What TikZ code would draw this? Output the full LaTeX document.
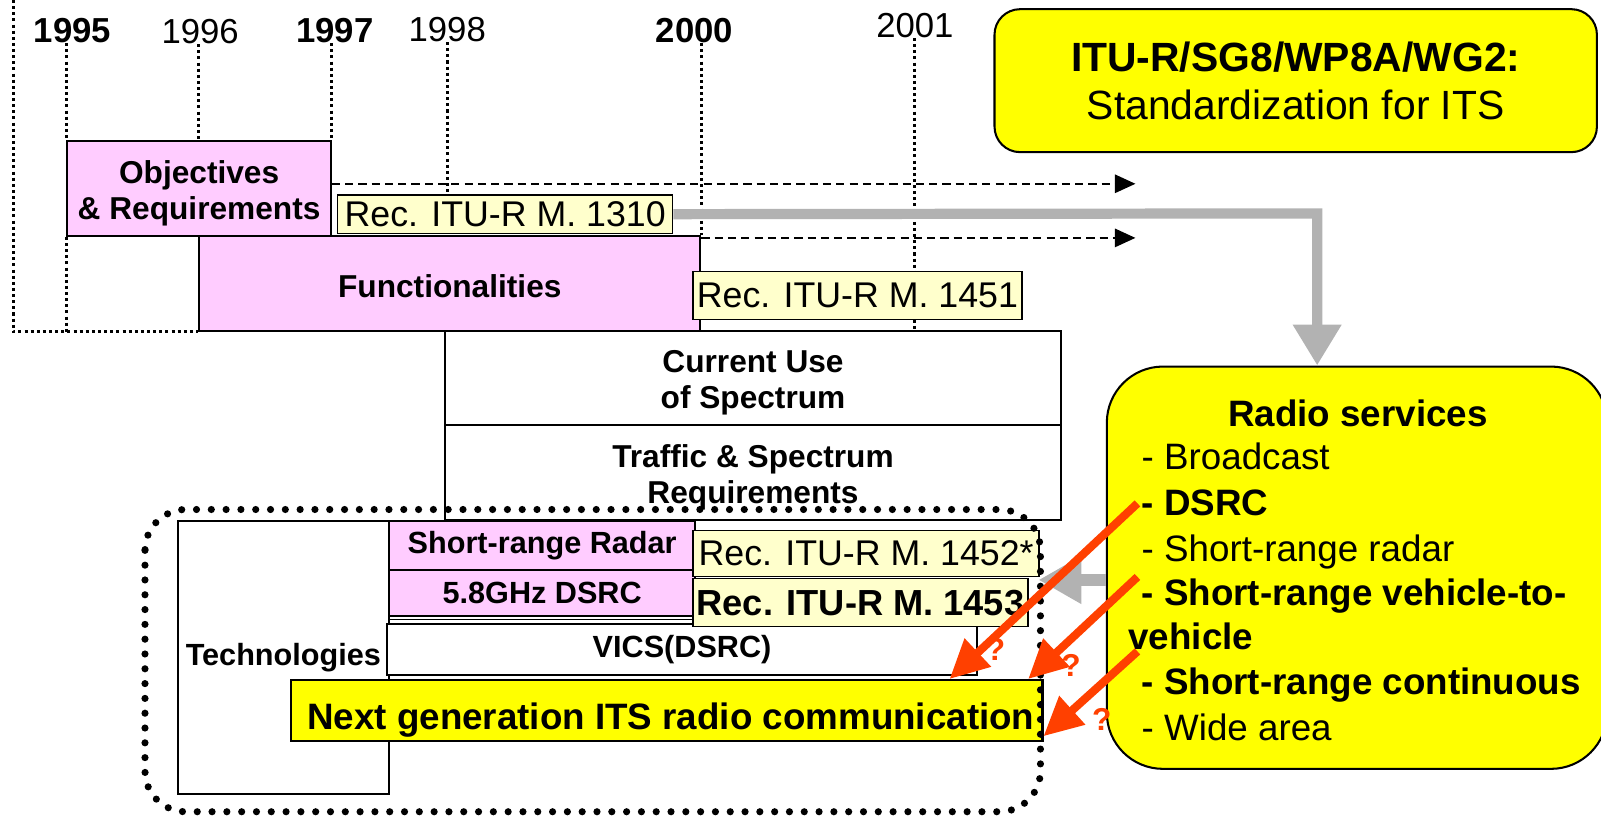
\documentclass[tikz,border=0pt]{standalone}
\usepackage{fontspec}
\setmainfont{Liberation Sans}
\usetikzlibrary{arrows.meta}
\definecolor{pinkbox}{RGB}{255,204,255}
\definecolor{lyel}{RGB}{255,255,204}
\definecolor{yel}{RGB}{255,255,0}
\definecolor{garr}{RGB}{178,178,178}
\definecolor{rarr}{RGB}{255,64,0}
\begin{document}
\begin{tikzpicture}[x=1pt,y=-1pt,
  bx/.style={draw,line width=2pt,inner sep=0pt,anchor=north west,align=center,
     font=\fontsize{31}{35}\selectfont\bfseries},
  pinkb/.style={bx,fill=pinkbox},
  recb/.style={bx,fill=lyel,line width=1.5pt,font=\fontsize{35}{40}\selectfont},
  whiteb/.style={bx,fill=white},
  lbl/.style={inner sep=0pt,align=center,font=\fontsize{31}{35}\selectfont\bfseries},
  yr/.style={inner sep=0pt,font=\fontsize{34}{40}\selectfont},
  tl/.style={line width=3pt,dash pattern=on 3pt off 3pt},
  dasharr/.style={line width=1.5pt,dash pattern=on 8pt off 5pt,-{Triangle[length=20pt,width=18pt]}},
  grayarr/.style={line width=10pt,garr,-{Triangle[length=40pt,width=45pt]}},
  redarr/.style={line width=8pt,rarr,-{Triangle[length=38pt,width=36pt]}},
  qm/.style={inner sep=0pt,text=rarr,font=\fontsize{31}{34}\selectfont\bfseries},
  rtxt/.style={inner sep=0pt,anchor=base west,font=\fontsize{36}{40}\selectfont},
]
\useasboundingbox (0,0) rectangle (1568,800);

% year labels
\node[yr] (y1995) at (71,30) {\bfseries 1995};
\node[yr] (y1996) at (196,31) {1996};
\node[yr] (y1997) at (328,30) {\bfseries 1997};
\node[yr] (y1998) at (438,29) {1998};
\node[yr] (y2000) at (680,30) {\bfseries 2000};
\node[yr] (y2001) at (896,25) {2001};

% box outlines for anchors
\node[pinkb,minimum width=258pt,minimum height=93pt] (obj) at (65,137) {};
\node[pinkb,minimum width=491pt,minimum height=93pt] (func) at (194,230) {};
\node[recb,minimum width=328pt,minimum height=38pt] (r1310) at (330,190) {};
\node[whiteb,minimum width=603pt,minimum height=92pt] (cur) at (435,323) {};

% timeline dotted lines
\coordinate (lc) at (13,0);
\draw[tl] (lc) -- (lc |- func.south west) -- (func.south west);
\draw[tl] (obj.north west |- y1995.south) -- (obj.north west);
\draw[tl] (obj.south west) -- (obj.south west |- func.south);
\draw[tl] (func.north west |- y1996.south) -- (func.north west |- obj.north);
\draw[tl] (obj.north east |- y1997.south) -- (obj.north east);
\draw[tl] (y1998.south) -- (y1998.south |- r1310.north);
\draw[tl] (func.north east |- y2000.south) -- (func.north east);
\draw[tl] (y2001.south) -- (y2001.south |- cur.north);

% boxes on top of dotted lines
\node[pinkb,minimum width=258pt,minimum height=93pt] (objb) at (65,137) {};
\node[lbl] (objt) at (obj.center) [yshift=-5pt] {Objectives\\\& Requirements};
\node[pinkb,minimum width=491pt,minimum height=93pt] (funcb) at (194,230) {};
\node[lbl] (funct) at (func.center) [yshift=-3pt] {Functionalities};
\node[recb,minimum width=328pt,minimum height=38pt] (r1310b) at (330,190) {Rec. ITU-R M. 1310};
\node[recb,minimum width=322pt,minimum height=47pt] (r1451) at (678,265) {Rec. ITU-R M. 1451};
\node[whiteb,minimum width=603pt,minimum height=92pt] (curb) at (435,323) {};
\node[lbl] (curt) at (cur.center) [yshift=-5pt] {Current Use\\of Spectrum};
\node[whiteb,minimum width=603pt,minimum height=93pt] (traf) at (435,415) {};
\node[lbl] (traft) at (traf.center) [yshift=-5pt] {Traffic \& Spectrum\\Requirements};

% dashed arrows
\coordinate (e1) at (1112,180);
\coordinate (e2) at (1112,233);
\draw[dasharr] (obj.east |- e1) -- (e1);
\draw[dasharr] (func.north east |- e2) -- (e2);

% ITU box
\node[draw,line width=2pt,fill=yel,rounded corners=25pt,anchor=north west,
  minimum width=590pt,minimum height=140pt,inner sep=0pt,align=center,
  font=\fontsize{40}{47}\selectfont] (itu) at (973,8)
  {\textbf{ITU-R/SG8/WP8A/WG2:}\\Standardization for ITS};

% Radio services box
\node[draw,line width=2pt,fill=yel,rounded corners=55pt,anchor=north west,
  minimum width=490pt,minimum height=394pt,inner sep=0pt] (radio) at (1083,358) {};
\node[inner sep=0pt,font=\fontsize{36}{40}\selectfont\bfseries] (rtitle) at (1330,405) {Radio services};
\node[rtxt] (l1) at (1118,460) {- Broadcast};
\node[rtxt] (l2) at (1118,505) {\bfseries - DSRC};
\node[rtxt] (l3) at (1118,550) {- Short-range radar};
\node[rtxt] (l4) at (1118,593) {\bfseries - Short-range vehicle-to-};
\node[rtxt] (l5) at (1105,636) {\bfseries vehicle};
\node[rtxt] (l6) at (1118,680) {\bfseries - Short-range continuous};
\node[rtxt] (l7) at (1118,725) {- Wide area};

% gray arrow
\coordinate (gturn) at (1290,209);
\draw[grayarr] (r1310.east) -- (gturn) -- (gturn |- radio.north);

% technologies
\node[whiteb,minimum width=207pt,minimum height=268pt,font=\fontsize{30}{35}\selectfont\bfseries] (tech) at (173,509) {Technologies};
\node[whiteb,minimum width=578pt,minimum height=50pt,font=\fontsize{30}{35}\selectfont\bfseries] (vics) at (378,610) {VICS(DSRC)};
\node[pinkb,minimum width=300pt,minimum height=48pt,font=\fontsize{30}{35}\selectfont\bfseries] (srr) at (380,509) {Short-range Radar};
\node[pinkb,minimum width=300pt,minimum height=45pt,font=\fontsize{30}{35}\selectfont\bfseries] (dsrc) at (380,557) {5.8GHz DSRC};
\draw[line width=1pt] ([yshift=-3pt]dsrc.south west) -- ([yshift=-3pt]dsrc.south east);
\node[recb,minimum width=339pt,minimum height=45pt] (r1452) at (678,519) {Rec. ITU-R M. 1452*};
\node[recb,minimum width=328pt,minimum height=47pt,font=\fontsize{35.5}{40}\selectfont\bfseries] (r1453) at (678,566) {Rec. ITU-R M. 1453};
\node[bx,fill=yel,minimum width=736pt,minimum height=60pt] (ng) at (284,665) {};
\node[inner sep=0pt,font=\fontsize{36}{40}\selectfont\bfseries] (ngt) at (657,705) {Next generation ITS radio communication};

% dotted group frame
\draw[line width=7pt,line cap=round,dash pattern=on 0pt off 14.5pt,rounded corners=40pt]
  (142,499) rectangle (1019,795);

% gray left arrow
\coordinate (gtip) at (1017,568);
\draw[line width=12pt,garr,-{Triangle[length=42pt,width=44pt]}] (gtip -| radio.west) -- (gtip);

% red arrows
\coordinate (s1) at (1114,493);
\coordinate (s2) at (1114,565);
\coordinate (s3) at (1114,638);
\coordinate (t1) at (930,665);
\coordinate (t2) at (1007,665);
\coordinate (t3) at (1022,721);
\draw[redarr] (s1) -- (t1);
\draw[redarr] (s2) -- (t2);
\draw[redarr] (s3) -- (t3);
\node[qm] (q1) at (975,636) {?};
\node[qm] (q2) at (1049,652) {?};
\node[qm] (q3) at (1079,705) {?};
\end{tikzpicture}
\end{document}
